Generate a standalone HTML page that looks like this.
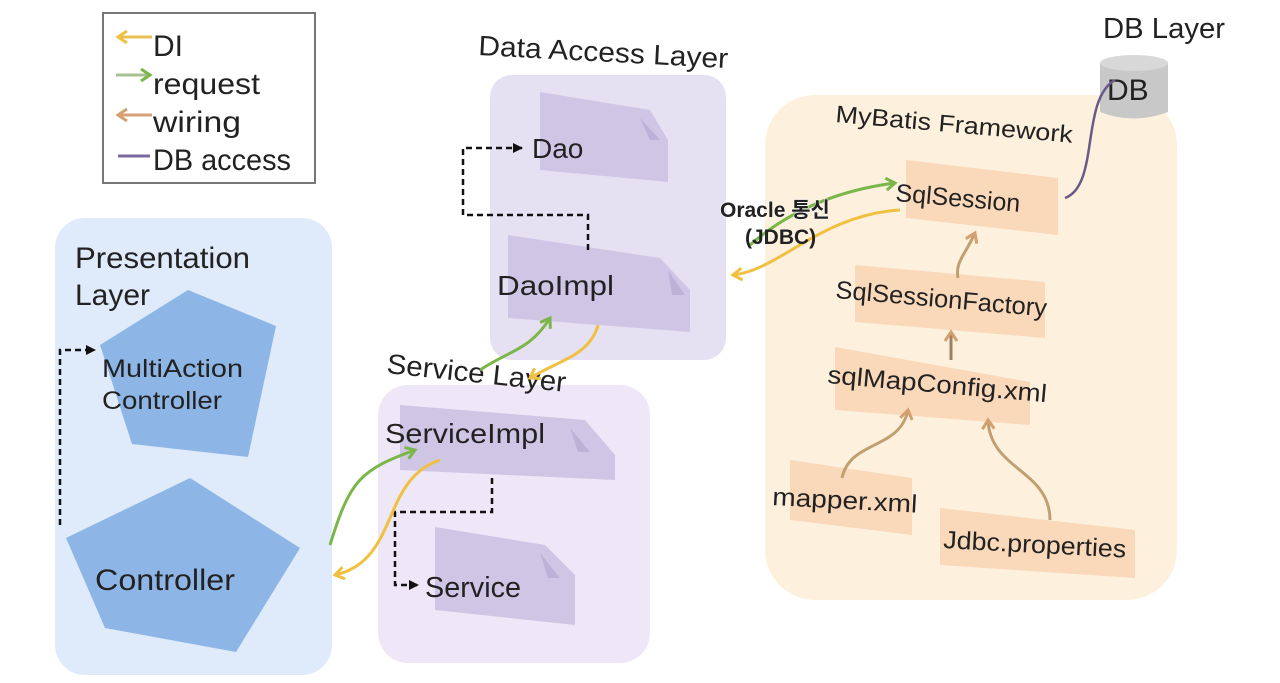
<!DOCTYPE html>
<html><head><meta charset="utf-8"><style>
html,body{margin:0;padding:0;background:#fff;}
svg{display:block;}
text{font-family:"Liberation Sans","Noto Sans CJK KR",sans-serif;fill:#222;}
</style></head><body>
<svg width="1280" height="683" viewBox="0 0 1280 683" xmlns="http://www.w3.org/2000/svg">
<defs>
<marker id="ak" markerUnits="userSpaceOnUse" markerWidth="12" markerHeight="12" refX="9" refY="6" orient="auto"><path d="M0,1 L10,6 L0,11 Z" fill="#111"/></marker>
<marker id="ag" markerUnits="userSpaceOnUse" markerWidth="14" markerHeight="14" refX="10" refY="7" orient="auto"><path d="M1,1 L10,7 L1,13" fill="none" stroke="#7ab648" stroke-width="3"/></marker>
<marker id="ay" markerUnits="userSpaceOnUse" markerWidth="14" markerHeight="14" refX="10" refY="7" orient="auto"><path d="M1,1 L10,7 L1,13" fill="none" stroke="#f0c040" stroke-width="3"/></marker>
<marker id="ao" markerUnits="userSpaceOnUse" markerWidth="14" markerHeight="14" refX="10" refY="7" orient="auto"><path d="M1,1 L10,7 L1,13" fill="none" stroke="#d4a070" stroke-width="3"/></marker>
</defs>

<!-- backgrounds -->
<rect x="55" y="218" width="277" height="457" rx="30" fill="#dfeafa"/>
<rect x="378" y="385" width="272" height="278" rx="30" fill="#ede7f7"/>
<rect x="490" y="75" width="236" height="285" rx="22" fill="#e6e0f3"/>
<rect x="765" y="95" width="412" height="505" rx="50" fill="#fdf1de"/>

<!-- legend -->
<rect x="103" y="13" width="212" height="170" fill="#fff" stroke="#777" stroke-width="2"/>
<line x1="152" y1="37" x2="118" y2="37" stroke="#e8c050" stroke-width="3" marker-end="url(#ay)"/>
<line x1="116" y1="75" x2="150" y2="75" stroke="#a8c090" stroke-width="3" marker-end="url(#ag)"/>
<line x1="152" y1="115" x2="118" y2="115" stroke="#d8a078" stroke-width="3" marker-end="url(#ao)"/>
<line x1="118" y1="156" x2="150" y2="156" stroke="#7868a0" stroke-width="3"/>
<g lengthAdjust="spacingAndGlyphs">
<text x="153" y="56" font-size="30">DI</text>
<text x="153" y="94" font-size="30" textLength="107" lengthAdjust="spacingAndGlyphs">request</text>
<text x="153" y="132" font-size="30" textLength="88" lengthAdjust="spacingAndGlyphs">wiring</text>
<text x="153" y="170" font-size="30" textLength="138" lengthAdjust="spacingAndGlyphs">DB access</text>
</g>

<!-- presentation -->
<text x="75" y="268" font-size="30" textLength="175" lengthAdjust="spacingAndGlyphs">Presentation</text>
<text x="75" y="305" font-size="30">Layer</text>
<polygon points="188,290 276,326 248,457 132,444 100,345" fill="#8db6e6"/>
<polygon points="190,478 300,548 236,652 105,628 66,538" fill="#8db6e6"/>
<text x="102" y="377" font-size="25" textLength="141" lengthAdjust="spacingAndGlyphs">MultiAction</text>
<text x="102" y="409" font-size="25" textLength="120" lengthAdjust="spacingAndGlyphs">Controller</text>
<text x="95" y="590" font-size="30" textLength="140" lengthAdjust="spacingAndGlyphs">Controller</text>
<path d="M60,525 L60,350 L95,350" fill="none" stroke="#111" stroke-width="2.5" stroke-dasharray="6,4" marker-end="url(#ak)"/>

<!-- cards -->
<g fill="#cfc6e6">
<polygon points="540,92 650,110 668,140 668,182 540,170"/>
<polygon points="508,235 660,258 690,290 690,332 508,318"/>
<polygon points="400,405 585,420 615,455 615,480 400,470"/>
<polygon points="435,527 545,545 575,575 575,625 435,610"/>
</g>
<g fill="#bcb2d8"><polygon points="640,118 660,140 650,140"/><polygon points="668,270 685,295 672,295"/><polygon points="570,428 590,452 578,452"/><polygon points="540,553 560,578 548,578"/></g>
<text x="478" y="55" font-size="28" transform="rotate(3 478 55)" textLength="250" lengthAdjust="spacingAndGlyphs">Data Access Layer</text>
<text x="532" y="158" font-size="28">Dao</text>
<text x="497" y="295" font-size="28" textLength="117" lengthAdjust="spacingAndGlyphs">DaoImpl</text>
<text x="386" y="373" font-size="28" transform="rotate(6 386 373)" textLength="180" lengthAdjust="spacingAndGlyphs">Service Layer</text>
<text x="385" y="443" font-size="28" textLength="160" lengthAdjust="spacingAndGlyphs">ServiceImpl</text>
<text x="425" y="597" font-size="29" textLength="96" lengthAdjust="spacingAndGlyphs">Service</text>
<path d="M588,250 L588,215 L463,215 L463,148 L522,148" fill="none" stroke="#111" stroke-width="2.5" stroke-dasharray="6,4" marker-end="url(#ak)"/>
<path d="M492,478 L492,512 L395,512 L395,585 L418,585" fill="none" stroke="#111" stroke-width="2.5" stroke-dasharray="6,4" marker-end="url(#ak)"/>

<!-- request / DI arrows -->
<path d="M330,545 C350,480 360,470 415,450" fill="none" stroke="#7ab648" stroke-width="3" marker-end="url(#ag)"/>
<path d="M440,460 C380,480 400,560 335,575" fill="none" stroke="#f0c040" stroke-width="3" marker-end="url(#ay)"/>
<path d="M480,370 C510,350 530,350 550,318" fill="none" stroke="#7ab648" stroke-width="3" marker-end="url(#ag)"/>
<path d="M598,325 C590,355 560,360 530,378" fill="none" stroke="#f0c040" stroke-width="3" marker-end="url(#ay)"/>
<path d="M750,245 C790,210 840,190 895,183" fill="none" stroke="#7ab648" stroke-width="3" marker-end="url(#ag)"/>
<path d="M900,210 C820,215 780,270 733,275" fill="none" stroke="#f0c040" stroke-width="3" marker-end="url(#ay)"/>
<text x="720" y="217" font-size="21" font-weight="bold" stroke="#fff" stroke-width="1" paint-order="stroke">Oracle 통신</text>
<text x="745" y="244" font-size="21" font-weight="bold">(JDBC)</text>

<!-- MyBatis -->
<text x="835" y="122" font-size="24" transform="rotate(5 835 122)" textLength="238" lengthAdjust="spacingAndGlyphs">MyBatis Framework</text>
<g fill="#fad8ba">
<polygon points="906,160 1058,178 1058,235 906,218"/>
<polygon points="855,265 1045,282 1045,338 855,322"/>
<polygon points="835,347 1030,382 1030,425 835,410"/>
<polygon points="790,460 912,478 912,535 790,520"/>
<polygon points="940,508 1135,530 1135,578 940,565"/>
</g>
<text x="895" y="201" font-size="25" transform="rotate(5 895 201)" textLength="125" lengthAdjust="spacingAndGlyphs">SqlSession</text>
<text x="835" y="298" font-size="25" transform="rotate(5 835 298)" textLength="212" lengthAdjust="spacingAndGlyphs">SqlSessionFactory</text>
<text x="827" y="383" font-size="25" transform="rotate(5 827 383)" textLength="220" lengthAdjust="spacingAndGlyphs">sqlMapConfig.xml</text>
<text x="772" y="505" font-size="25" transform="rotate(3 772 505)" textLength="145" lengthAdjust="spacingAndGlyphs">mapper.xml</text>
<text x="943" y="548" font-size="25" transform="rotate(3 943 548)" textLength="183" lengthAdjust="spacingAndGlyphs">Jdbc.properties</text>
<path d="M958,278 C955,262 965,255 975,233" fill="none" stroke="#c0a070" stroke-width="3" marker-end="url(#ao)"/>
<line x1="951" y1="360" x2="951" y2="332" stroke="#a08060" stroke-width="3" marker-end="url(#ao)"/>
<path d="M842,478 C850,440 900,450 908,410" fill="none" stroke="#c0a070" stroke-width="3" marker-end="url(#ao)"/>
<path d="M1050,520 C1050,470 990,470 988,420" fill="none" stroke="#c0a070" stroke-width="3" marker-end="url(#ao)"/>

<!-- DB -->
<text x="1103" y="38" font-size="29" textLength="122" lengthAdjust="spacingAndGlyphs">DB Layer</text>
<path d="M1100,63 L1100,112 Q1133,125 1168,112 L1168,63 Z" fill="#c8c8c8"/>
<ellipse cx="1134" cy="63" rx="34" ry="8" fill="#d8d8d8"/>
<text x="1107" y="100" font-size="30">DB</text>
<path d="M1065,198 C1100,185 1080,100 1115,80" fill="none" stroke="#6a5a8a" stroke-width="2.5"/>
</svg>
</body></html>
